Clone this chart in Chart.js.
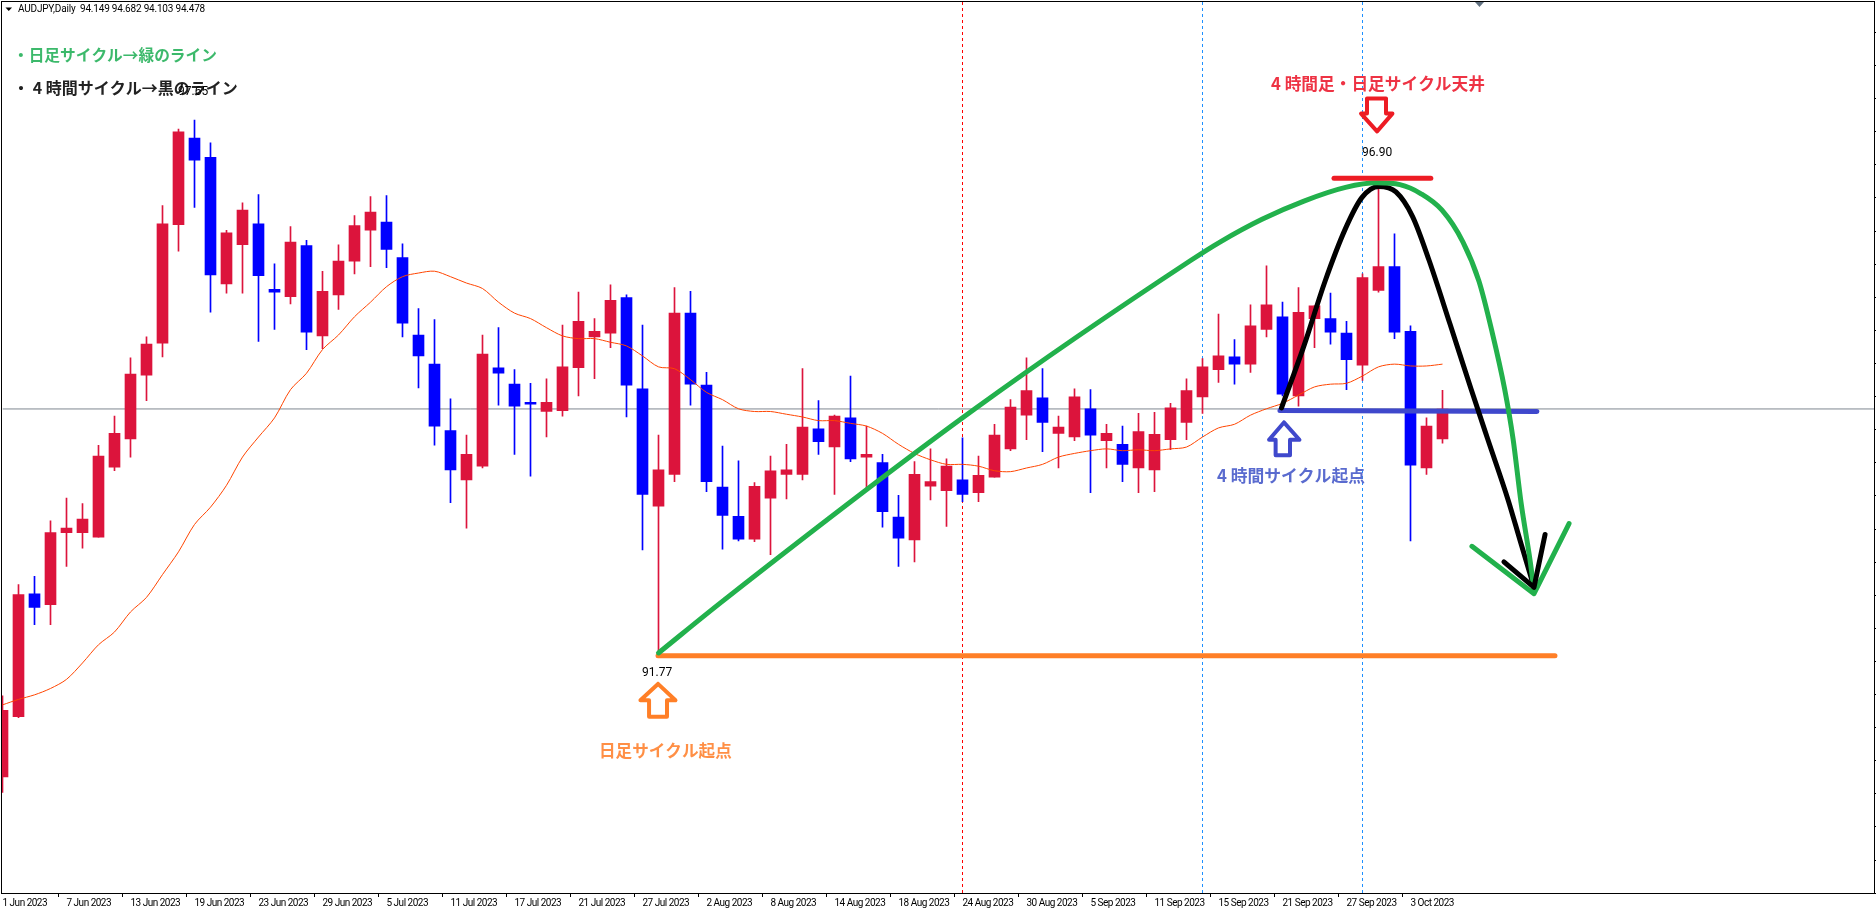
<!DOCTYPE html>
<html>
<head>
<meta charset="utf-8">
<title>AUDJPY,Daily</title>
<script src="https://cdn.jsdelivr.net/npm/chart.js@4/dist/chart.umd.min.js"></script>
<style>
html, body { margin: 0; padding: 0; background: #fff; overflow: hidden; }
#wrap { width: 1876px; height: 914px; }
</style>
</head>
<body>
<div id="wrap"><canvas id="chart" width="1876" height="914"></canvas></div>
<script>
// date labels, one every 4 bars
const dateLabels = ['1 Jun 2023','7 Jun 2023','13 Jun 2023','19 Jun 2023','23 Jun 2023','29 Jun 2023','5 Jul 2023','11 Jul 2023','17 Jul 2023','21 Jul 2023','27 Jul 2023','2 Aug 2023','8 Aug 2023','14 Aug 2023','18 Aug 2023','24 Aug 2023','30 Aug 2023','5 Sep 2023','11 Sep 2023','15 Sep 2023','21 Sep 2023','27 Sep 2023','3 Oct 2023'];

// daily candles
const opens = [90.44,91.10,92.45,92.33,93.12,93.12,93.07,93.84,94.15,94.85,95.20,96.50,97.45,97.24,95.85,96.28,96.51,95.79,95.71,96.27,95.28,95.73,96.10,96.44,96.53,96.14,95.29,94.97,94.24,93.70,93.85,94.93,94.75,94.55,94.45,94.46,94.93,95.27,95.31,95.70,94.70,93.41,93.76,95.53,94.74,93.62,93.30,93.05,93.50,93.76,93.76,94.26,94.06,94.38,93.95,93.89,93.29,93.04,93.63,93.58,93.70,93.56,93.73,94.04,94.41,94.60,94.21,94.17,94.48,94.13,94.09,93.83,93.81,94.14,94.33,94.61,94.91,95.05,94.97,95.35,95.49,94.62,95.47,95.47,95.31,94.96,95.78,96.04,95.33,93.83,94.149];
const highs = [91.33,92.55,92.64,93.25,93.50,93.44,94.08,94.40,95.04,95.27,96.71,97.55,97.65,97.40,96.44,96.74,96.83,96.07,96.48,96.33,95.99,96.28,96.60,96.81,96.82,96.29,95.58,95.46,94.59,94.19,95.29,95.37,94.91,94.76,94.81,95.40,95.76,95.47,95.84,95.73,95.40,94.19,95.81,95.77,94.88,94.07,93.91,93.67,93.96,94.09,94.92,94.57,94.41,94.84,94.29,93.98,93.53,93.90,94.04,93.93,94.16,93.96,94.31,94.58,95.04,94.92,94.40,94.70,94.69,94.31,94.29,94.43,94.44,94.54,94.81,95.03,95.52,95.24,95.62,96.05,95.65,95.81,95.61,95.75,95.44,95.96,96.90,96.40,95.39,94.38,94.682];
const lows = [90.27,91.09,92.11,92.11,92.75,92.95,93.07,93.80,93.95,94.57,95.05,96.21,96.69,95.54,95.75,95.75,95.22,95.35,95.63,95.13,95.14,95.57,95.96,96.04,96.03,95.27,94.71,94.08,93.45,93.17,93.83,94.52,93.98,93.74,94.17,94.40,94.62,94.81,95.15,94.39,92.93,91.77,93.68,94.52,93.57,92.94,93.03,93.02,92.88,93.49,93.70,93.98,93.54,93.90,93.59,93.18,92.75,92.80,93.48,93.19,93.46,93.46,93.73,94.02,94.14,94.01,93.83,94.13,93.56,93.83,93.68,93.56,93.57,94.03,94.14,94.43,94.77,94.75,94.88,95.27,94.62,94.51,95.15,95.19,94.69,94.79,95.76,95.25,93.03,93.76,94.103];
const closes = [91.17,92.44,92.30,93.12,93.17,93.27,93.96,94.21,94.86,95.19,96.51,97.52,97.21,95.95,96.41,96.66,95.94,95.76,96.31,95.32,95.77,96.10,96.49,96.64,96.23,95.42,95.06,94.29,93.81,93.98,95.08,94.87,94.51,94.53,94.55,94.94,95.44,95.33,95.67,94.74,93.54,93.81,95.53,94.75,93.68,93.31,93.05,93.63,93.80,93.81,94.28,94.12,94.40,93.93,93.98,93.35,93.06,93.76,93.68,93.85,93.54,93.75,94.19,94.50,94.68,94.33,94.28,94.61,94.19,94.21,93.87,94.23,94.20,94.49,94.68,94.94,95.06,94.97,95.39,95.62,94.64,95.54,95.61,95.32,95.02,95.92,96.04,95.32,93.86,94.29,94.478];

// moving average
const maValues = [91.23,91.29,91.34,91.41,91.51,91.69,91.89,92.03,92.25,92.41,92.66,92.91,93.21,93.40,93.64,93.95,94.17,94.38,94.69,94.87,95.13,95.29,95.49,95.65,95.82,95.93,95.97,95.99,95.93,95.86,95.80,95.65,95.53,95.47,95.37,95.28,95.25,95.25,95.21,95.17,95.06,94.94,94.92,94.80,94.66,94.58,94.48,94.45,94.45,94.42,94.39,94.35,94.35,94.32,94.29,94.21,94.09,93.99,93.92,93.87,93.87,93.85,93.80,93.79,93.83,93.87,93.95,93.99,94.02,94.04,94.02,94.03,94.02,94.04,94.06,94.17,94.27,94.31,94.41,94.48,94.54,94.63,94.72,94.75,94.76,94.84,94.94,94.97,94.95,94.95,94.97];

const bidPrice = 94.478;
const redVline = [60];
const blueVlines = [75, 85];
const priceMin = 89.165;
const priceMax = 98.945;

// hand drawn lines, x in bars, y in price
const greenCurveX = [41,45.09,60.78,74.28,76.09,78.72,81.34,83.94,85.91,87.34,88.66,89.97,91.28,92.28,93.09,93.88,94.41,94.91,95.47,95.72];
const greenCurveY = [91.80,92.38,94.48,96.11,96.31,96.56,96.76,96.91,96.96,96.94,96.84,96.66,96.31,95.88,95.33,94.70,94.15,93.45,92.82,92.49];
const blackCurveX = [79.94,81.34,82.66,83.94,84.97,86.03,87.09,88.13,89.16,90.47,91.78,92.84,94.1,94.84,95.72];
const blackCurveY = [94.49,95.17,95.88,96.46,96.80,96.92,96.86,96.59,96.11,95.41,94.70,94.14,93.48,93.04,92.52];
const greenHeadX = [91.84,95.72,97.91];
const greenHeadY = [92.97,92.45,93.22];
const blackHeadX = [93.84,95.72,96.41];
const blackHeadY = [92.80,92.52,93.10];
const redLineX = [83.22,89.27];
const redLineY = [97.01,97.01];
const blueLineX = [79.84,95.9];
const blueLineY = [94.46,94.45];
const orangeLineX = [40.97,97.03];
const orangeLineY = [91.77,91.77];
const redArrowX = [85.28,86.47,86.47,86.87,85.91,84.91,85.28,85.28];
const redArrowY = [97.885,97.885,97.72,97.72,97.525,97.72,97.72,97.885];
const blueArrowX = [80.09,81.06,80.47,80.47,79.57,79.57,79.16,80.09];
const blueArrowY = [94.33,94.14,94.14,93.97,93.97,94.14,94.14,94.33];
const orangeArrowX = [40.97,42.06,41.53,41.53,40.41,40.41,39.87,40.97];
const orangeArrowY = [91.46,91.28,91.28,91.10,91.10,91.28,91.28,91.46];

const UP = '#dc143c';
const DOWN = '#0000ff';
const BARS = 118; // bars that fit the window, the rest is empty
const labels = [];
for (let i = 0; i < BARS; i++) labels.push(dateLabels[i / 4] || '');

const candleColors = closes.map((c, i) => c >= opens[i] ? UP : DOWN);
const bodies = opens.map((o, i) => [o, closes[i]]);
const wicks = lows.map((l, i) => [l, highs[i]]);
const zip = (xs, ys) => xs.map((x, i) => ({ x: x, y: ys[i] }));

function stroke(xs, ys, color, width, order, extra) {
    return Object.assign({
        type: 'line',
        xAxisID: 'bars',
        data: zip(xs, ys),
        borderColor: color,
        borderWidth: width,
        pointRadius: 0,
        borderCapStyle: 'round',
        borderJoinStyle: 'round',
        tension: 0,
        order: order
    }, extra || {});
}

function vline(bar, color) {
    return stroke([bar, bar], [priceMin, priceMax], color, 1, 31, { borderDash: [3, 3], borderCapStyle: 'butt' });
}

const jp = size => 'bold ' + size + 'px "Noto Sans CJK JP"';
const small = '12px Roboto';

// texts written on the chart
const notes = [
    { text: '・日足サイクル→緑のライン', x: 13, y: 55, color: '#3cb96b', font: jp(15.7) },
    { text: '・ 4 時間サイクル→黒のライン', x: 13, y: 88, color: '#222222', font: jp(16) },
    { text: '4 時間足・日足サイクル天井', x: 1271, y: 84, color: '#ee3344', font: jp(16.7) },
    { text: '4 時間サイクル起点', x: 1217, y: 476, color: '#5a6bcf', font: jp(16.8) },
    { text: '日足サイクル起点', x: 599, y: 751, color: '#ff8f45', font: jp(16.6) },
    { text: '97.65', x: 178, y: 92, color: '#000', font: small },
    { text: '96.90', x: 1362, y: 153, color: '#000', font: small },
    { text: '91.77', x: 642, y: 673, color: '#000', font: small },
    { text: 'AUDJPY,Daily  94.149 94.682 94.103 94.478', x: 18, y: 9.5, color: '#000', font: '10px Roboto', spacing: '-0.2px' }
];

const chartDress = {
    id: 'chartDress',
    beforeDraw(chart) {
        // tick labels are tighter than any installed font
        chart.ctx.letterSpacing = '-0.5px';
    },
    afterDatasetsDraw(chart) {
        const ctx = chart.ctx;
        ctx.save();
        // frame
        ctx.strokeStyle = '#000';
        ctx.lineWidth = 1;
        ctx.strokeRect(1.5, 1.5, 1873, 892);
        // price axis marks right of the frame
        ctx.fillStyle = '#000';
        for (let y = 32; y < 893; y += 33.1) ctx.fillRect(1875, Math.round(y), 1, 1);
        // little marker under the top border
        ctx.fillStyle = '#607080';
        ctx.beginPath();
        ctx.moveTo(1475, 2); ctx.lineTo(1484, 2); ctx.lineTo(1479.5, 7);
        ctx.fill();
        // header triangle
        ctx.fillStyle = '#000';
        ctx.beginPath();
        ctx.moveTo(5.5, 7.5); ctx.lineTo(12, 7.5); ctx.lineTo(8.75, 11);
        ctx.fill();
        ctx.textBaseline = 'middle';
        ctx.textAlign = 'left';
        notes.forEach(n => {
            ctx.letterSpacing = n.spacing || '0px';
            ctx.fillStyle = n.color;
            ctx.font = n.font;
            ctx.fillText(n.text, n.x, n.y);
        });
        ctx.restore();
    }
};

const datasets = [
    { type: 'bar', label: 'body', data: bodies, backgroundColor: candleColors, barThickness: 11, grouped: false, order: 20, clip: { left: 1, right: 0, top: 0, bottom: 0 } },
    { type: 'bar', label: 'wick', data: wicks, backgroundColor: candleColors, barThickness: 1, grouped: false, order: 21, clip: { left: 1, right: 0, top: 0, bottom: 0 } },
    { type: 'line', label: 'MA', data: maValues, borderColor: '#ff4500', borderWidth: 1, pointRadius: 0, tension: 0.3, order: 15 },
    stroke([0, BARS - 1], [bidPrice, bidPrice], '#7f8790', 1, 30, { borderCapStyle: 'butt' }),
    vline(redVline[0], '#ff0000'),
    vline(blueVlines[0], '#1e90ff'),
    vline(blueVlines[1], '#1e90ff'),
    stroke(orangeLineX, orangeLineY, '#ff7f27', 5, 9),
    stroke(blueLineX, blueLineY, '#3f48cc', 5, 8),
    stroke(blackCurveX, blackCurveY, '#000', 5, 7, { cubicInterpolationMode: 'monotone' }),
    stroke(greenCurveX, greenCurveY, '#22b14c', 5, 6, { cubicInterpolationMode: 'monotone' }),
    stroke(greenHeadX, greenHeadY, '#22b14c', 5, 5),
    stroke(blackHeadX, blackHeadY, '#000', 5, 4),
    stroke(redLineX, redLineY, '#ed1c24', 5, 3),
    stroke(redArrowX, redArrowY, '#ed1c24', 4, 2),
    stroke(blueArrowX, blueArrowY, '#3f48cc', 4, 2),
    stroke(orangeArrowX, orangeArrowY, '#ff7f27', 4, 2)
];

new Chart(document.getElementById('chart'), {
    data: { labels: labels, datasets: datasets },
    plugins: [chartDress],
    options: {
        responsive: false,
        animation: false,
        events: [],
        layout: { padding: { left: 2.5, right: 1.5, top: 2, bottom: 0 } },
        plugins: { legend: { display: false }, tooltip: { enabled: false } },
        scales: {
            x: {
                type: 'category',
                offset: false,
                grid: {
                    drawOnChartArea: false,
                    drawTicks: true,
                    tickLength: 4,
                    tickColor: c => (c.index % 4 === 0 && labels[c.index]) ? '#000' : 'rgba(0,0,0,0)'
                },
                border: { color: '#000' },
                ticks: {
                    autoSkip: false,
                    maxRotation: 0,
                    minRotation: 0,
                    align: 'start',
                    padding: 0,
                    color: '#000',
                    font: { family: 'Roboto', size: 10 },
                    callback: function (v) { return this.getLabelForValue(v); }
                },
                afterFit: s => { s.height = 21; }
            },
            bars: { type: 'linear', display: false, min: 0, max: BARS - 1 },
            y: { type: 'linear', display: false, min: priceMin, max: priceMax }
        }
    }
});
</script>
</body>
</html>
